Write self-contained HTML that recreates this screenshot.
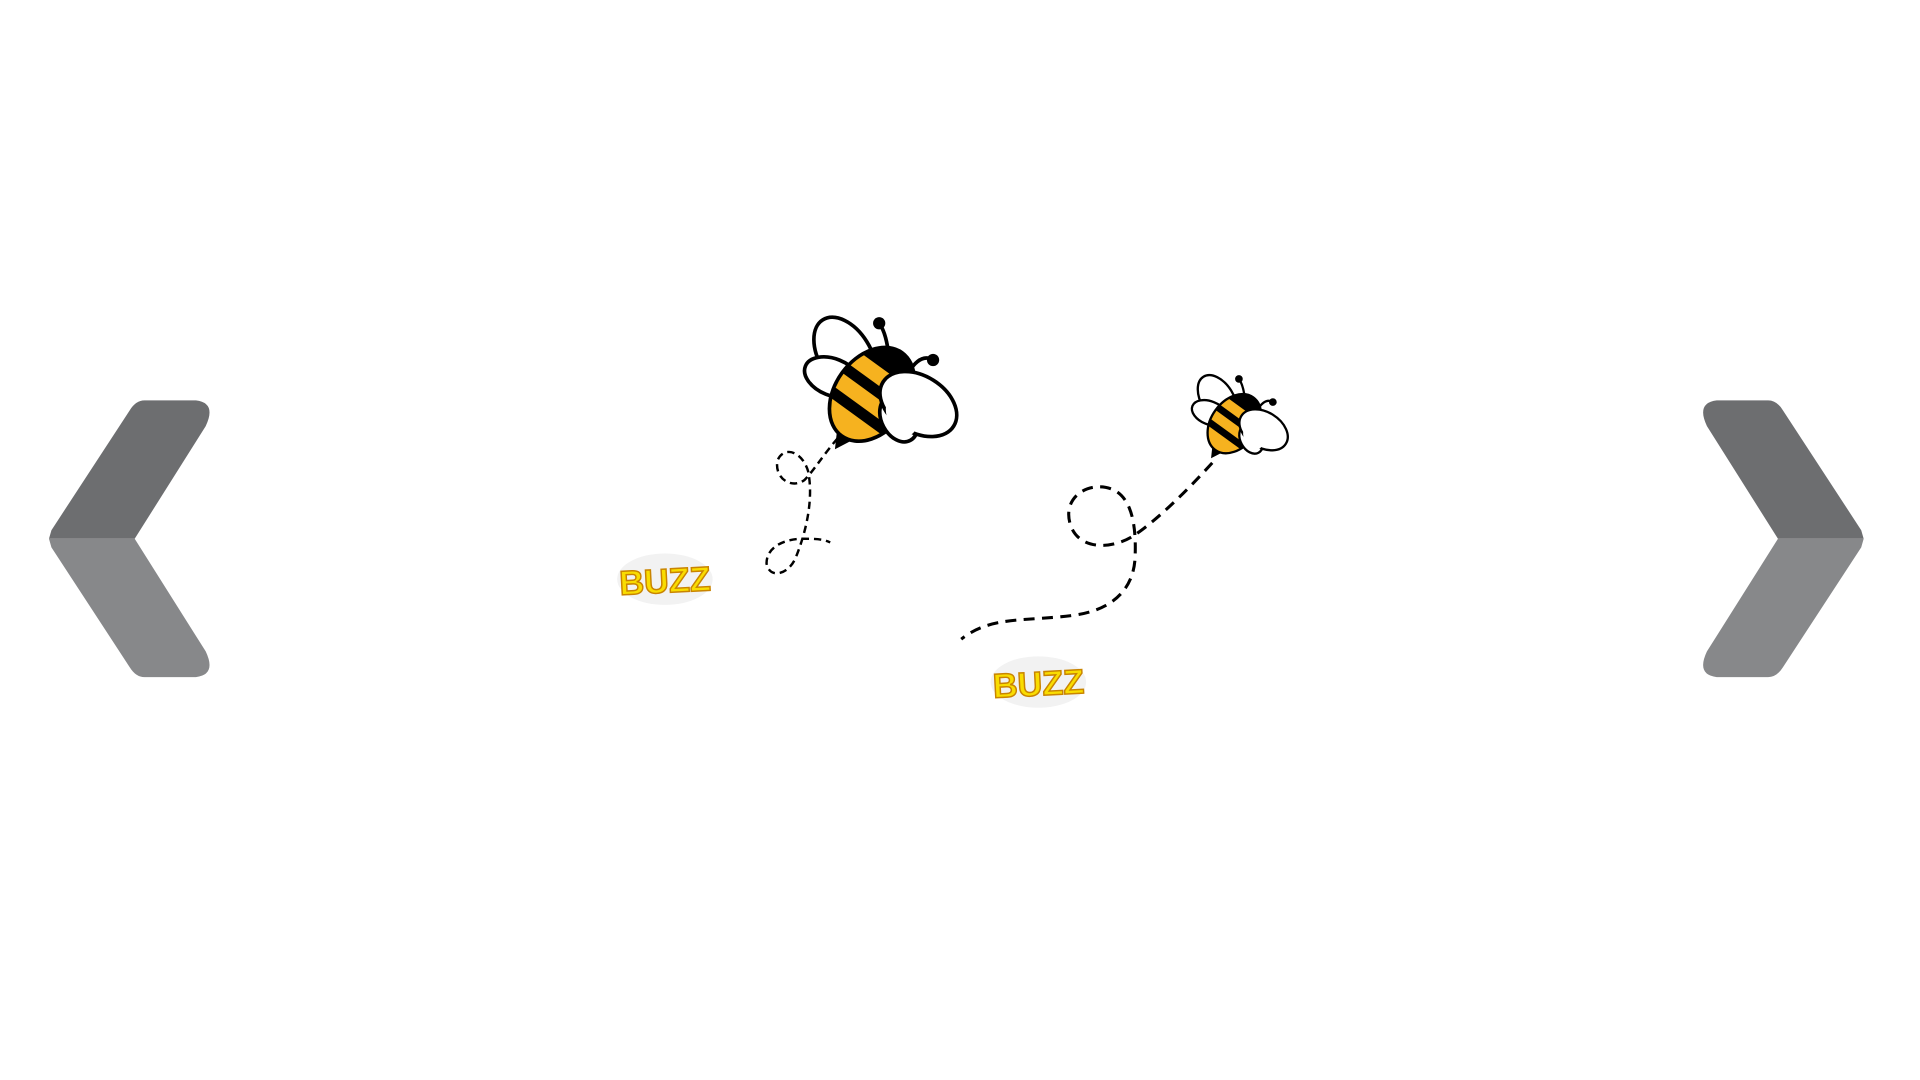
<!DOCTYPE html>
<html><head><meta charset="utf-8"><style>
html,body{margin:0;padding:0;background:#fff;width:1920px;height:1080px;overflow:hidden}
svg{display:block}
</style></head><body>
<svg width="1920" height="1080" viewBox="0 0 1568 882">
<defs>
<clipPath id="bodyclip"><ellipse cx="0" cy="0" rx="42" ry="30"/></clipPath>
<g id="bee">
  <g transform="rotate(-54)">
    <path d="M-40,-6 L-54,2 L-40,9 Z" fill="#000"/>
  </g>
  <ellipse cx="-22" cy="-32" rx="34" ry="21" transform="rotate(58 -22 -32)" fill="#fff" stroke="#000" stroke-width="3"/>
  <ellipse cx="-32" cy="-14" rx="24" ry="15" transform="rotate(22 -32 -14)" fill="#fff" stroke="#000" stroke-width="3"/>
  <g transform="rotate(-54)">
    <ellipse cx="0" cy="0" rx="42" ry="30" fill="#f6b21f" stroke="#000" stroke-width="3"/>
    <g clip-path="url(#bodyclip)" fill="#000">
      <rect x="-22" y="-40" width="9" height="80"/>
      <rect x="0" y="-40" width="9" height="80"/>
      <rect x="22" y="-40" width="30" height="80"/>
    </g>
  </g>
  <path d="M14,-30 Q12,-50 6,-58" fill="none" stroke="#000" stroke-width="3"/>
  <circle cx="6" cy="-58" r="5" fill="#000"/>
  <path d="M30,-18 Q40,-34 50,-28" fill="none" stroke="#000" stroke-width="3"/>
  <circle cx="50" cy="-28" r="5" fill="#000"/>
  <ellipse cx="22" cy="20" rx="20" ry="14" transform="rotate(62 22 20)" fill="#fff" stroke="#000" stroke-width="3"/>
  <ellipse cx="38" cy="8" rx="34" ry="23" transform="rotate(32 38 8)" fill="#fff" stroke="#000" stroke-width="3"/>
  <ellipse cx="24" cy="18" rx="17" ry="11" transform="rotate(62 24 18)" fill="#fff"/>
</g>
</defs>

<g>
  <path d="M118,327 L160,327 Q177,329 168,348 L110,440 L40,440 L42,433 L106,335 Q111,327 118,327 Z" fill="#6d6e70"/>
  <path d="M40,440 L110,440 L168,532 Q177,551 160,553 L118,553 Q111,553 106,545 L42,447 Z" fill="#87888a"/>
</g>
<g transform="translate(1562,0) scale(-1,1)">
  <path d="M118,327 L160,327 Q177,329 168,348 L110,440 L40,440 L42,433 L106,335 Q111,327 118,327 Z" fill="#6d6e70"/>
  <path d="M40,440 L110,440 L168,532 Q177,551 160,553 L118,553 Q111,553 106,545 L42,447 Z" fill="#87888a"/>
</g>

<path d="M684,358 C672,372 664,385 657,392 C646,400 632,390 635,376 C640,364 655,368 660,385 C664,405 660,430 650,455 C644,470 628,473 626,460 C626,446 642,440 655,440 C665,440 672,440 678,443" fill="none" stroke="#000" stroke-width="2" stroke-dasharray="6,4"/>
<path d="M990,378 C970,400 945,425 925,438 C905,450 880,448 874,428 C868,408 885,395 903,398 C925,402 928,430 927,455 C926,480 910,497 880,502 C840,508 810,502 785,522" fill="none" stroke="#000" stroke-width="2.5" stroke-dasharray="9,6"/>

<use href="#bee" transform="translate(712,322)"/>
<use href="#bee" transform="translate(1008,346) scale(0.63)"/>

<g>
  <ellipse cx="543" cy="473" rx="39" ry="21" fill="#f2f2f2"/>
  <text x="543" y="484" text-anchor="middle" font-family="Liberation Sans, sans-serif" font-weight="bold" font-size="28" fill="#f9dc00" stroke="#c98400" stroke-width="1.2" transform="rotate(-3 543 473)">BUZZ</text>
</g>
<g>
  <ellipse cx="848" cy="557" rx="39" ry="21" fill="#f2f2f2"/>
  <text x="848" y="568" text-anchor="middle" font-family="Liberation Sans, sans-serif" font-weight="bold" font-size="28" fill="#f9dc00" stroke="#c98400" stroke-width="1.2" transform="rotate(-3 848 557)">BUZZ</text>
</g>
</svg>
</body></html>
